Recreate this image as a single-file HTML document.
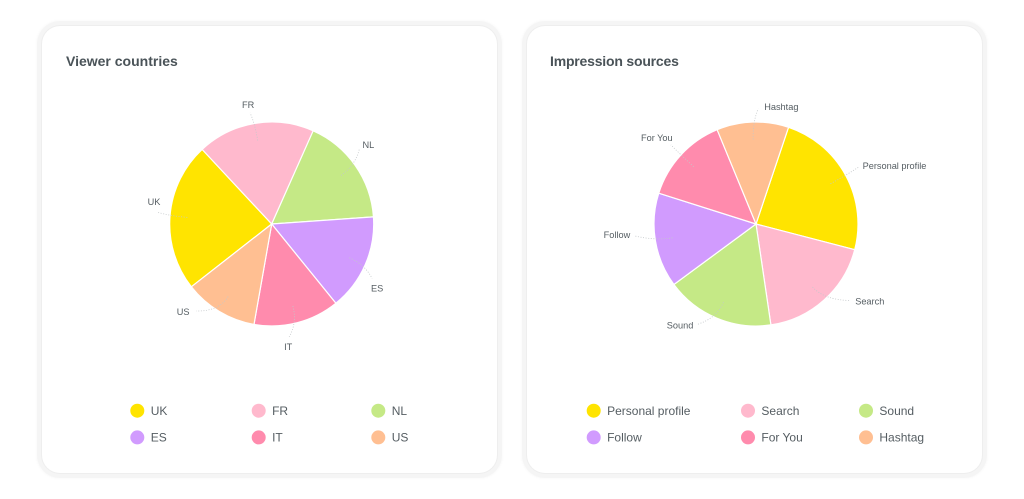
<!DOCTYPE html>
<html lang="en">
<head>
<meta charset="utf-8">
<title>Viewer countries and impression sources</title>
<style>
html,body{margin:0;padding:0;background:#fff;width:1024px;height:499px;overflow:hidden}
body{position:relative;font-family:"Liberation Sans",sans-serif}
.card{position:absolute;top:26px;width:455px;height:447px;background:#fff;border-radius:18px;box-shadow:0 0 0 1px #eeeeee,0 0 0 5px #f5f5f5,0 0 2px 6px #fafafa}
.title{position:absolute;left:24px;top:27px;font-size:14px;font-weight:700;line-height:17px;color:#4a5358;white-space:nowrap}
svg{position:absolute;left:0;top:0}
</style>
</head>
<body>
<div class="card" style="left:42px">
  <div class="title">Viewer countries</div>
</div>
<div class="card" style="left:527px">
  <div class="title" style="left:23px;letter-spacing:-.2px">Impression sources</div>
</div>
<svg id="plot" width="1024" height="499" viewBox="0 0 1024 499"></svg>
<script>
const viewerCategories = ['UK', 'FR', 'NL', 'ES', 'IT', 'US'];
const viewerValues = [85, 67, 62, 55, 49, 42];
const sourceCategories = ['Personal profile', 'Search', 'Sound', 'Follow', 'For You', 'Hashtag'];
const sourceValues = [86, 67, 62, 54, 50, 41];

const palette = ['#ffe400', '#ffb9cd', '#c5e986', '#d19bfe', '#ff8bad', '#ffbf92'];
const NS = 'http://www.w3.org/2000/svg';
const svg = document.getElementById('plot');

function el(tag, attrs, parent) {
  const node = document.createElementNS(NS, tag);
  for (const key in attrs) node.setAttribute(key, attrs[key]);
  parent.appendChild(node);
  return node;
}

function polar(cx, cy, r, deg) {
  const a = deg * Math.PI / 180;
  return [cx + r * Math.sin(a), cy - r * Math.cos(a)];
}

function slug(text) {
  return text.toLowerCase().replace(/\s+/g, '-');
}

function drawPie(cfg, categories, values) {
  const total = values.reduce((s, v) => s + v, 0);
  let angle = cfg.start;
  const g = el('g', {}, svg);
  
  
  const overlays = [];
  values.forEach((value, i) => {
    const sweep = value / total * 360;
    const a = polar(cfg.cx, cfg.cy, cfg.r, angle);
    const b = polar(cfg.cx, cfg.cy, cfg.r, angle + sweep);
    const large = sweep > 180 ? 1 : 0;
    const slice = el('path', {
      d: `M${cfg.cx} ${cfg.cy}L${a[0]} ${a[1]}A${cfg.r} ${cfg.r} 0 ${large} 1 ${b[0]} ${b[1]}Z`,
      fill: palette[i], stroke: '#fff', 'stroke-width': 1.2, 'stroke-linejoin': 'round'
    }, g);
    
    
    overlays.push({ mid: angle + sweep / 2, label: categories[i] });
    angle += sweep;
  });
  overlays.forEach((o) => {
    const place = cfg.place[o.label];
    const p0 = polar(cfg.cx, cfg.cy, cfg.r * 0.83, o.mid);
    const pc = polar(cfg.cx, cfg.cy, cfg.r * 1.0, o.mid);
    const p1 = polar(cfg.cx, cfg.cy, cfg.r * place.reach, o.mid + place.bend);
    const leader = el('path', {
      d: `M${p0[0]} ${p0[1]}Q${pc[0]} ${pc[1]} ${p1[0]} ${p1[1]}`,
      fill: 'none', stroke: '#c4c8ca', 'stroke-width': 0.8, 'stroke-dasharray': '1 1.6'
    }, g);
    
    
    const text = el('text', {
      x: p1[0] + place.dx, y: p1[1] + place.dy + 3,
      'text-anchor': place.anchor, 'font-size': 9.2, fill: '#555d62'
    }, g);
    text.textContent = o.label;
    
    
  });
  categories.forEach((label, i) => {
    const x = cfg.legendX[i % 3];
    const y = i < 3 ? 410.7 : 437.4;
    const item = el('g', {}, svg);
    
    
    el('circle', { cx: x, cy: y, r: 7, fill: palette[i] }, item);
    const text = el('text', {
      x: x + 13.4, y: y + 4.2, 'font-size': 12, fill: '#555d62'
    }, item);
    text.textContent = label;
  });
}

drawPie({
  name: 'viewer-countries', cx: 271.7, cy: 224, r: 102, start: 232,
  legendX: [137.3, 258.7, 378.3],
  place: {
    UK: { bend: 1.4, reach: 1.13, dx: -3, dy: -10, anchor: 'middle' },
    FR: { bend: -1.5, reach: 1.11, dx: -2, dy: -8, anchor: 'middle' },
    NL: { bend: -5.5, reach: 1.13, dx: 9, dy: -4, anchor: 'middle' },
    ES: { bend: 5, reach: 1.12, dx: 5, dy: 10, anchor: 'middle' },
    IT: { bend: 5.7, reach: 1.12, dx: -1, dy: 10, anchor: 'middle' },
    US: { bend: 10, reach: 1.13, dx: -13, dy: 1, anchor: 'middle' }
  }
}, viewerCategories, viewerValues);

drawPie({
  name: 'impression-sources', cx: 756, cy: 224, r: 102, start: 18.6,
  legendX: [593.7, 748, 866],
  place: {
    'Personal profile': { bend: -0.6, reach: 1.15, dx: 4, dy: -1, anchor: 'start' },
    Search: { bend: -9, reach: 1.19, dx: 5, dy: 1, anchor: 'start' },
    Sound: { bend: 7.7, reach: 1.14, dx: -4, dy: 1, anchor: 'end' },
    Follow: { bend: 3.7, reach: 1.19, dx: -5, dy: -1, anchor: 'end' },
    'For You': { bend: 0.3, reach: 1.14, dx: -14, dy: -7, anchor: 'middle' },
    Hashtag: { bend: 3, reach: 1.13, dx: 6, dy: -2, anchor: 'start' }
  }
}, sourceCategories, sourceValues);
</script>
</body>
</html>
